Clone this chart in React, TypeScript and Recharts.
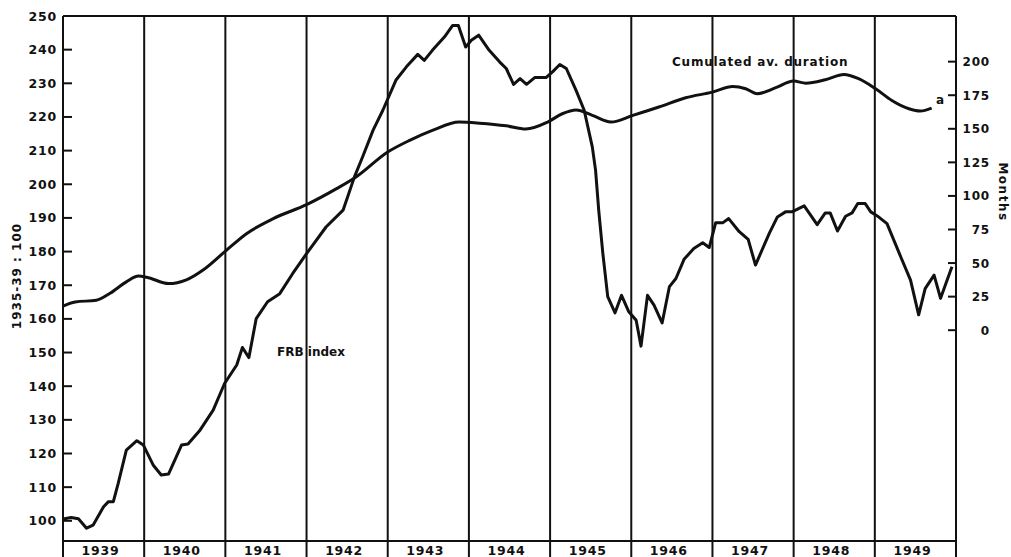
import React from 'react';
import { ComposedChart, Line, XAxis, YAxis, ReferenceLine } from 'recharts';

// FRB index (1935-39 = 100), left axis
const frbDates = [
  1939.0, 1939.1, 1939.19, 1939.29, 1939.37, 1939.5, 1939.56, 1939.62, 1939.68, 1939.78,
  1939.91, 1939.99, 1940.11, 1940.21, 1940.3, 1940.46, 1940.54, 1940.69, 1940.85, 1940.99,
  1941.14, 1941.21, 1941.29, 1941.38, 1941.52, 1941.67, 1941.83, 1942.0, 1942.24, 1942.45,
  1942.59, 1942.69, 1942.82, 1942.94, 1943.1, 1943.23, 1943.37, 1943.45, 1943.55, 1943.7,
  1943.8, 1943.87, 1943.96, 1944.03, 1944.12, 1944.25, 1944.38, 1944.46, 1944.55, 1944.63,
  1944.71, 1944.81, 1944.95, 1945.03, 1945.12, 1945.2, 1945.32, 1945.42, 1945.52, 1945.56,
  1945.6, 1945.65, 1945.71, 1945.8, 1945.88, 1945.97, 1946.06, 1946.12, 1946.2, 1946.28,
  1946.38, 1946.47, 1946.55, 1946.65, 1946.77, 1946.88, 1946.96, 1947.04, 1947.13, 1947.2,
  1947.33, 1947.44, 1947.53, 1947.7, 1947.8, 1947.9, 1947.98, 1948.13, 1948.29, 1948.39,
  1948.45, 1948.54, 1948.64, 1948.72, 1948.79, 1948.88, 1948.95, 1949.03, 1949.15, 1949.32,
  1949.44, 1949.54, 1949.62, 1949.73, 1949.81, 1949.95,
];
const frbValues = [
  100.5, 101.0, 100.6, 97.8, 98.7, 104.2, 105.7, 105.7, 111.1, 121.0,
  123.8, 122.5, 116.6, 113.6, 113.9, 122.5, 122.8, 127.0, 132.9, 140.8,
  146.3, 151.5, 148.5, 160.1, 165.1, 167.5, 173.5, 179.4, 187.3, 192.3,
  202.2, 208.1, 216.1, 222.0, 230.9, 234.9, 238.6, 236.8, 239.8, 243.8,
  247.2, 247.2, 240.8, 242.8, 244.3, 239.8, 236.3, 234.4, 229.7, 231.4,
  229.7, 231.7, 231.7, 233.4, 235.6, 234.4, 227.9, 222.0, 211.1, 204.2,
  192.0, 179.4, 166.6, 161.8, 167.0, 162.1, 159.6, 151.9, 167.0, 164.1,
  158.8, 169.6, 172.0, 177.7, 180.9, 182.6, 181.2, 188.6, 188.6, 189.8,
  185.9, 183.6, 176.0, 185.4, 190.3, 191.8, 191.8, 193.6, 188.0, 191.5,
  191.5, 186.1, 190.5, 191.5, 194.3, 194.3, 191.8, 190.6, 188.3, 178.4,
  171.5, 161.2, 169.0, 173.0, 166.1, 175.5,
];

// Cumulated average duration (months), right axis
const durDates = [
  1939.0, 1939.15, 1939.41, 1939.58, 1939.78, 1939.93, 1940.03, 1940.3, 1940.52, 1940.73,
  1940.99, 1941.26, 1941.59, 1942.0, 1942.37, 1942.61, 1943.0, 1943.27, 1943.55, 1943.88,
  1944.13, 1944.46, 1944.7, 1944.97, 1945.15, 1945.32, 1945.52, 1945.75, 1946.02, 1946.34,
  1946.67, 1947.0, 1947.25, 1947.41, 1947.55, 1947.78, 1948.0, 1948.15, 1948.39, 1948.62,
  1948.8, 1949.01, 1949.21, 1949.42, 1949.56, 1949.7,
];
const durValues = [
  18, 21, 22.3, 27.5, 36, 40.3, 39.5, 34.7, 37.5, 45,
  58.3, 71.9, 83.1, 93.5, 105.4, 114.1, 132.7, 141.4, 148.8, 155.0,
  154.2, 152.2, 149.8, 155.0, 161.2, 164.0, 160.0, 155.0, 160.0, 166.2,
  173.1, 177.3, 181.5, 179.8, 176.1, 180.6, 185.5, 184.0, 186.5, 190.5,
  187.3, 179.8, 171.1, 164.9, 163.2, 165.4,
];

const yearLabels = ['1939', '1940', '1941', '1942', '1943', '1944', '1945', '1946', '1947', '1948', '1949'];
const yearBoundaries = [1939, 1940, 1941, 1942, 1943, 1944, 1945, 1946, 1947, 1948, 1949, 1950];
const leftTicks = [100, 110, 120, 130, 140, 150, 160, 170, 180, 190, 200, 210, 220, 230, 240, 250];
const rightTicks = [0, 25, 50, 75, 100, 125, 150, 175, 200];

const frbData = frbDates.map((t, i) => ({ t, frb: frbValues[i] }));
const durData = durDates.map((t, i) => ({ t, dur: durValues[i] }));
const xTicks: number[] = [];
yearBoundaries.forEach((b, i) => {
  xTicks.push(b);
  if (i < yearLabels.length) xTicks.push(b + 0.5);
});

const INK = '#111';
const FONT = '"DejaVu Sans", sans-serif';

const XTick = (props: any) => {
  const { x, y, payload } = props;
  const v = payload.value as number;
  if (Number.isInteger(v)) {
    return <line x1={x} x2={x} y1={y} y2={y + 16} stroke={INK} strokeWidth={2} />;
  }
  const label = yearLabels[Math.floor(v) - 1939];
  return (
    <text x={x - 3} y={y + 13.5} textAnchor="middle" fill={INK} fontFamily={FONT} fontWeight="bold" fontSize={12.5} letterSpacing={0.8}>
      {label}
    </text>
  );
};

const LeftTick = (props: any) => {
  const { x, y, payload } = props;
  return (
    <g>
      <line x1={x} x2={x + 9} y1={y} y2={y} stroke={INK} strokeWidth={2} />
      <text x={x - 6} y={y + 4.5} textAnchor="end" fill={INK} fontFamily={FONT} fontWeight="bold" fontSize={12.5} letterSpacing={0.8}>
        {payload.value}
      </text>
    </g>
  );
};

const RightTick = (props: any) => {
  const { x, y, payload } = props;
  return (
    <g>
      <line x1={x - 8} x2={x} y1={y} y2={y} stroke={INK} strokeWidth={2} />
      <text x={x + 34} y={y + 4.5} textAnchor="end" fill={INK} fontFamily={FONT} fontWeight="bold" fontSize={12} letterSpacing={0.8}>
        {payload.value}
      </text>
    </g>
  );
};

const textStyle: React.CSSProperties = {
  position: 'absolute',
  fontFamily: FONT,
  fontWeight: 'bold',
  fontSize: 12,
  lineHeight: '14px',
  color: INK,
  whiteSpace: 'nowrap',
};

export default function App() {
  return (
    <div style={{ position: 'absolute', left: 0, top: 0, width: 1011, height: 557, background: '#fff' }}>
      <ComposedChart width={1011} height={557} margin={{ top: 16, right: 0, bottom: 0, left: 0 }}>
        <XAxis
          type="number"
          dataKey="t"
          domain={[1939, 1950]}
          ticks={xTicks}
          interval={0}
          allowDataOverflow
          height={16}
          tickSize={0}
          tickMargin={0}
          tickLine={false}
          tick={<XTick />}
          axisLine={{ stroke: INK, strokeWidth: 2 }}
        />
        <YAxis
          yAxisId="left"
          orientation="left"
          domain={[94, 250]}
          ticks={leftTicks}
          interval={0}
          allowDataOverflow
          width={63}
          tickSize={0}
          tickMargin={0}
          tickLine={false}
          tick={<LeftTick />}
          axisLine={{ stroke: INK, strokeWidth: 2 }}
        />
        <YAxis
          yAxisId="right"
          orientation="right"
          domain={[-157, 234]}
          ticks={rightTicks}
          interval={0}
          allowDataOverflow
          width={55}
          tickSize={0}
          tickMargin={0}
          tickLine={false}
          tick={<RightTick />}
          axisLine={{ stroke: INK, strokeWidth: 2 }}
        />
        <ReferenceLine yAxisId="left" y={250} stroke={INK} strokeWidth={2} />
        {yearBoundaries.slice(1, -1).map((b) => (
          <ReferenceLine key={b} yAxisId="left" x={b} stroke={INK} strokeWidth={2} />
        ))}
        <Line
          yAxisId="left"
          data={frbData}
          dataKey="frb"
          type="linear"
          stroke={INK}
          strokeWidth={3}
          strokeLinejoin="round"
          dot={false}
          isAnimationActive={false}
        />
        <Line
          yAxisId="right"
          data={durData}
          dataKey="dur"
          type="monotone"
          stroke={INK}
          strokeWidth={3}
          dot={false}
          isAnimationActive={false}
        />
      </ComposedChart>
      <div style={{ ...textStyle, left: 277, top: 345, letterSpacing: 0 }}>FRB index</div>
      <div style={{ ...textStyle, left: 672, top: 55, letterSpacing: 0.8 }}>Cumulated av. duration</div>
      <div style={{ ...textStyle, left: 936, top: 93 }}>a</div>
      <div
        style={{
          ...textStyle,
          left: 17,
          top: 276,
          letterSpacing: 1,
          transform: 'translate(-50%, -50%) rotate(-90deg)',
        }}
      >
        1935-39 : 100
      </div>
      <div
        style={{
          ...textStyle,
          left: 1003,
          top: 192,
          letterSpacing: 1.5,
          transform: 'translate(-50%, -50%) rotate(90deg)',
        }}
      >
        Months
      </div>
    </div>
  );
}
